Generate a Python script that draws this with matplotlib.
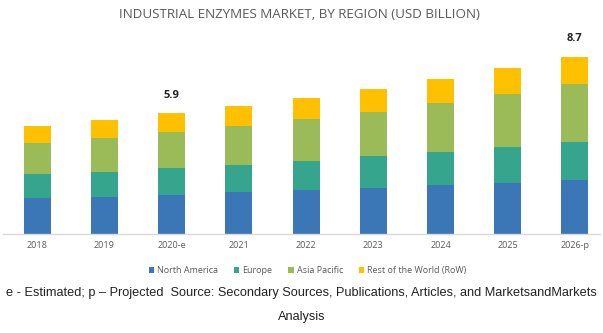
import matplotlib
matplotlib.use("Agg")
import matplotlib.pyplot as plt
import numpy as np

years = ["2018", "2019", "2020-e", "2021", "2022", "2023", "2024", "2025", "2026-p"]
north_america = [1.76, 1.83, 1.92, 2.04, 2.14, 2.26, 2.39, 2.52, 2.66]
europe = [1.17, 1.22, 1.30, 1.36, 1.44, 1.55, 1.64, 1.76, 1.85]
asia_pacific = [1.51, 1.64, 1.76, 1.88, 2.03, 2.18, 2.36, 2.54, 2.80]
rest_of_world = [0.84, 0.89, 0.92, 0.97, 1.04, 1.11, 1.17, 1.27, 1.35]
series_names = ["North America", "Europe", "Asia Pacific", "Rest of the World (RoW)"]
labelled_years = ["2020-e", "2026-p"]

colors = ["#3B76B6", "#36A58E", "#9BBB59", "#FFC000"]

W, H = 603, 333
fig = plt.figure(figsize=(W / 100, H / 100), dpi=100)

# axes placement in pixel coordinates
ax_left, ax_right = 3, 600
ax_top, ax_bottom = 40, 234.3
ax = fig.add_axes([ax_left / W, 1 - ax_bottom / H, (ax_right - ax_left) / W, (ax_bottom - ax_top) / H])

x = np.arange(len(years))
spacing = 67.2
x0 = 37.3
ax.set_xlim((ax_left - x0) / spacing, (ax_right - x0) / spacing)
ax.set_ylim(0, (ax_bottom - ax_top) / 20.5)

data = [north_america, europe, asia_pacific, rest_of_world]
bottom = np.zeros(len(years))
for vals, c, name in zip(data, colors, series_names):
    ax.bar(x, vals, width=0.40, bottom=bottom, color=c, label=name, linewidth=0)
    bottom += np.array(vals)

for i, yr in enumerate(years):
    if yr in labelled_years:
        ax.text(x[i], bottom[i] + 0.6, f"{bottom[i]:.1f}", ha="center", va="bottom",
                fontsize=8, fontweight="bold", color="#222222", family="Open Sans")

for s in ["top", "right", "left"]:
    ax.spines[s].set_visible(False)
ax.spines["bottom"].set_color("#D9D9D9")
ax.spines["bottom"].set_linewidth(1.0)
ax.set_yticks([])
ax.set_xticks(x)
ax.set_xticklabels(years, fontsize=6.5, color="#595959", family="Open Sans")
ax.tick_params(axis="x", length=0, pad=5)

fig.text(0.497, 1 - 15 / H, "INDUSTRIAL ENZYMES MARKET, BY REGION (USD BILLION)", ha="center", va="center",
         fontsize=9.6, color="#595959", family="Open Sans")

handles, labels = ax.get_legend_handles_labels()
leg = fig.legend(handles, labels, loc="center", bbox_to_anchor=(0.51, 1 - 270.5 / H), ncol=4,
                 frameon=False, handlelength=0.6, handleheight=0.6,
                 handletextpad=0.3, columnspacing=1.8, labelcolor="#595959",
                 prop={"family": "Open Sans", "size": 6.5})

fig.text(0.5, 1 - 293 / H,
         "e - Estimated; p \u2013 Projected  Source: Secondary Sources, Publications, Articles, and MarketsandMarkets",
         ha="center", va="center", fontsize=9.2, color="#222222",
         family=["Liberation Sans Narrow", "Liberation Sans"])
fig.text(0.5, 1 - 317 / H, "Analysis", ha="center", va="center", fontsize=9.2, color="#222222",
         family=["Liberation Sans Narrow", "Liberation Sans"])

fig.savefig("out.png", dpi=100)
